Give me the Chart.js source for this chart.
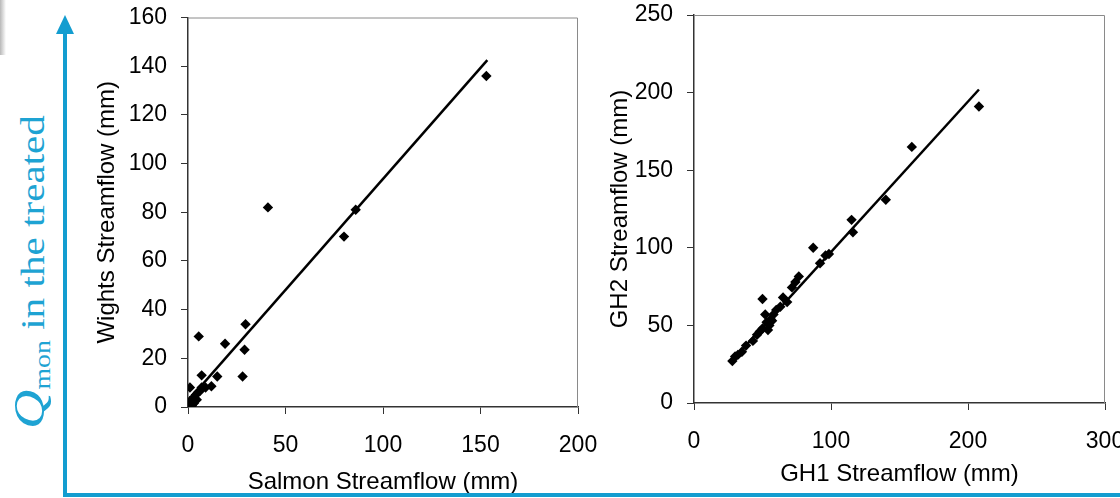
<!DOCTYPE html>
<html>
<head>
<meta charset="utf-8">
<script src="https://cdn.jsdelivr.net/npm/chart.js@4.4.0/dist/chart.umd.min.js"></script>
<style>
  html, body { margin: 0; padding: 0; background: #fff; overflow: hidden; }
  body { width: 1120px; height: 498px; position: relative; }
  canvas { position: absolute; top: 0; }
  #left { left: 80px; }
  #right { left: 590px; }
  .blue { position: absolute; background: #139dd0; }
  #arrowhead { position: absolute; left: 56px; top: 15px; width: 0; height: 0;
    border-left: 9px solid transparent; border-right: 9px solid transparent; border-bottom: 19px solid #139dd0; }
  #shade { position: absolute; left: 0; top: 0; width: 6px; height: 55px;
    background: linear-gradient(to right, #b8b8b8, rgba(255,255,255,0)); }
  #qmon { position: absolute; left: 33px; top: 272px; white-space: nowrap; line-height: 44px;
    font-family: "Liberation Serif", "DejaVu Serif", serif; color: #1ea3d3; font-size: 34px;
    transform: translate(-50%, -50%) rotate(-90deg) scaleX(1.21); }
  #qmon .q { font-style: italic; font-size: 45px; }
  #qmon .sub { font-size: 23px; position: relative; top: 6px; }
</style>
</head>
<body>
<div id="shade"></div>
<canvas id="left" width="540" height="498"></canvas>
<canvas id="right" width="550" height="498"></canvas>
<div class="blue" style="left:63px; top:30px; width:4px; height:467px;"></div>
<div class="blue" style="left:63px; top:493px; width:1060px; height:4px;"></div>
<div id="arrowhead"></div>
<div id="qmon"><span class="q">Q</span><span class="sub">mon</span> in the treated</div>
<script>
// left panel: Salmon vs Wights
var salmonFlow = [153, 86, 80, 41, 29.5, 29, 28, 19, 15, 12, 9, 7, 7, 5.5, 1, 5, 4, 3.5, 3, 2.5, 2, 1.5, 1, 0.5, 0.2, 2, 3, 4.5, 6, 1, 0.3];
var wightsFlow = [136, 81, 70, 82, 34, 23.5, 12.5, 26, 12.5, 8.5, 8, 13, 8, 29, 8, 6, 5, 3.5, 4, 2.5, 3, 1.5, 1, 0.5, 0.2, 0.5, 1.5, 3, 6.5, 2.5, 1.5];
var salmonFitX = [0, 153.5];
var wightsFitY = [2.5, 142.5];

// right panel: GH1 vs GH2
var gh1Flow = [208, 159, 140, 115, 116, 98.5, 96, 87, 92, 76.5, 74, 71.5, 65, 68, 63, 60, 58, 56, 52, 50, 55, 53, 50, 48, 46, 43, 38, 35, 32, 30, 28, 54, 57];
var gh2Flow = [191, 165, 131, 118, 110, 96, 95, 100, 90, 81.5, 78, 74.5, 68, 65, 62, 60, 57, 54, 57, 67, 50, 52, 48, 46, 44, 40, 37, 33, 31, 30, 27, 47, 53];
var gh1FitX = [27, 208];
var gh2FitY = [26.5, 202];

var tickFont = { family: "'Liberation Sans', Arial, sans-serif", size: 23 };
var titleFont = { family: "'Liberation Sans', Arial, sans-serif", size: 24 };

// gray frame on top and right of the plot area, like the Excel original
var plotFrame = {
  id: 'plotFrame',
  beforeDatasetsDraw: function(chart) {
    var a = chart.chartArea;
    var ctx = chart.ctx;
    ctx.save();
    ctx.strokeStyle = '#8a8a8a';
    ctx.lineWidth = 1;
    ctx.beginPath();
    ctx.moveTo(a.left, a.top + 0.5);
    ctx.lineTo(a.right - 0.5, a.top + 0.5);
    ctx.lineTo(a.right - 0.5, a.bottom);
    ctx.stroke();
    ctx.restore();
  }
};

function toPoints(xs, ys) {
  var pts = [];
  for (var i = 0; i < xs.length; i++) {
    pts.push({ x: xs[i], y: ys[i] });
  }
  return pts;
}

function chartSetup(xs, ys, fitX, fitY, xMax, xStep, yMax, yStep, xTitle, yTitle, box) {
  var data = {
    type: 'scatter',
    data: {
      datasets: [{
        data: toPoints(xs, ys),
        pointStyle: 'rectRot',
        pointRadius: 5.2,
        backgroundColor: '#000',
        borderWidth: 0
      }, {
        type: 'line',
        data: toPoints(fitX, fitY),
        borderColor: '#000',
        borderWidth: 2.5,
        pointRadius: 0,
        fill: false
      }]
    },
    options: {
      responsive: false,
      animation: false,
      layout: {
        padding: { top: box.top, right: box.right, left: box.left, bottom: 0 }
      },
      plugins: {
        legend: { display: false },
        tooltip: { enabled: false }
      },
      scales: {
        x: {
          type: 'linear',
          min: 0,
          max: xMax,
          ticks: { stepSize: xStep, color: '#000', font: tickFont, padding: 18, maxRotation: 0 },
          grid: { drawOnChartArea: false, drawTicks: true, tickLength: 7, color: '#333' },
          border: { color: '#333', width: 1.5 },
          title: { display: true, text: xTitle, color: '#000', font: titleFont, padding: { top: 0, bottom: box.xTitlePad } },
          afterFit: function(scale) {
            scale.height = box.xHeight;
            scale.paddingLeft = 0;
            scale.paddingRight = 0;
          }
        },
        y: {
          type: 'linear',
          min: 0,
          max: yMax,
          ticks: { stepSize: yStep, color: '#000', font: tickFont, padding: 14 },
          grid: { drawOnChartArea: false, drawTicks: true, tickLength: 7, color: '#333' },
          border: { color: '#333', width: 1.5 },
          title: { display: true, text: yTitle, color: '#000', font: titleFont, padding: { top: box.yTitlePad, bottom: 0 } },
          afterFit: function(scale) {
            scale.width = box.yWidth;
            scale.paddingTop = 0;
            scale.paddingBottom = 0;
          }
        }
      }
    },
    plugins: [plotFrame]
  };
  return data;
}

new Chart(document.getElementById('left').getContext('2d'), chartSetup(
  salmonFlow, wightsFlow, salmonFitX, wightsFitY,
  200, 50, 160, 20, 'Salmon Streamflow (mm)', 'Wights Streamflow (mm)',
  { top: 17.5, right: 42, left: 0, yWidth: 108, xHeight: 91, yTitlePad: 12.6, xTitlePad: 1.6 }
));

new Chart(document.getElementById('right').getContext('2d'), chartSetup(
  gh1Flow, gh2Flow, gh1FitX, gh2FitY,
  300, 100, 250, 50, 'GH1 Streamflow (mm)', 'GH2 Streamflow (mm)',
  { top: 15, right: 35, left: 0, yWidth: 104, xHeight: 95, yTitlePad: 15.6, xTitlePad: 9.6 }
));
</script>
</body>
</html>
